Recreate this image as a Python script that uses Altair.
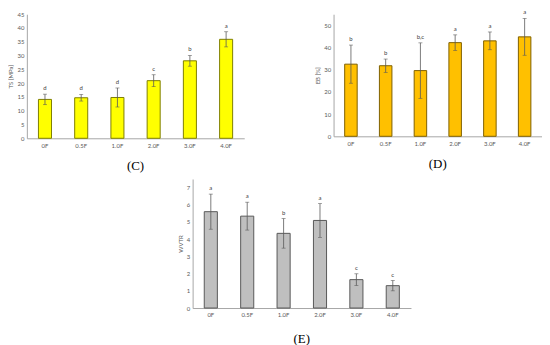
import altair as alt
import pandas as pd

cats = ["0F", "0.5F", "1.0F", "2.0F", "3.0F", "4.0F"]

ts_mean = [14.1, 14.7, 14.8, 20.9, 28.1, 35.9]
ts_err = [1.9, 1.2, 3.45, 2.15, 1.95, 2.75]
ts_letters = ["d", "d", "d", "c", "b", "a"]

eb_mean = [32.5, 31.8, 29.6, 42.2, 43.0, 44.8]
eb_err = [8.6, 3.0, 12.5, 3.5, 4.0, 8.3]
eb_letters = ["b", "b", "b,c", "a", "a", "a"]

wvtr_mean = [5.6, 5.34, 4.34, 5.09, 1.65, 1.3]
wvtr_err = [1.02, 0.81, 0.86, 0.98, 0.34, 0.3]
wvtr_letters = ["a", "a", "b", "a", "c", "c"]

FONT = "Lato"


def panel(mean, err, letters, fill, stroke, ytitle, domain, ticks, w, h, title, toff):
    df = pd.DataFrame({
        "cat": cats,
        "mean": mean,
        "lo": [m - e for m, e in zip(mean, err)],
        "hi": [m + e for m, e in zip(mean, err)],
        "lab": letters,
    })
    base = alt.Chart(df)
    x = alt.X("cat:N", sort=cats, title=None,
              scale=alt.Scale(paddingInner=0.64, paddingOuter=0.32),
              axis=alt.Axis(labelAngle=0, ticks=False, labelPadding=4))

    def y(field):
        return alt.Y(field, title=ytitle,
                     scale=alt.Scale(domain=domain, nice=False, zero=True),
                     axis=alt.Axis(values=ticks, ticks=False, grid=False,
                                   labelPadding=3, titlePadding=3))

    bars = base.mark_bar(fill=fill, stroke=stroke, strokeWidth=1).encode(x=x, y=y("mean:Q"))
    rule = base.mark_rule(color="#595959", strokeWidth=0.8).encode(x=x, y=y("lo:Q"), y2="hi:Q")
    cap_lo = base.mark_tick(color="#595959", size=4, thickness=0.8, orient="horizontal").encode(x=x, y=y("lo:Q"))
    cap_hi = base.mark_tick(color="#595959", size=4, thickness=0.8, orient="horizontal").encode(x=x, y=y("hi:Q"))
    text = base.mark_text(dy=-6, fontSize=6, baseline="middle", font=FONT, color="#404040").encode(
        x=x, y=y("hi:Q"), text="lab:N")
    return alt.layer(bars, rule, cap_lo, cap_hi, text).properties(
        width=w, height=h,
        title=alt.TitleParams(title, orient="bottom", font="Liberation Serif", fontSize=13,
                              fontWeight="normal", color="#000000", offset=toff),
    )


c_chart = panel(ts_mean, ts_err, ts_letters, "#FFFF00", "#7F7F00", "TS [MPa]",
                [0, 45], [0, 5, 10, 15, 20, 25, 30, 35, 40, 45], 219, 125, "(C)", 12)
d_chart = panel(eb_mean, eb_err, eb_letters, "#FFC000", "#7F6000", "EB [%]",
                [0, 55], [0, 10, 20, 30, 40, 50], 210, 123, "(D)", 12)
e_chart = panel(wvtr_mean, wvtr_err, wvtr_letters, "#BFBFBF", "#595959", "WVTR",
                [0, 7.5], [0, 1, 2, 3, 4, 5, 6, 7], 220, 130, "(E)", 15)

spacer = alt.Chart(pd.DataFrame({"v": [0]})).mark_point(opacity=0, size=0).encode(
    x=alt.value(0), y=alt.value(5)).properties(width=167, height=10)

row1 = alt.hconcat(c_chart, d_chart, spacing=90, bounds="flush")
row2 = alt.hconcat(spacer, e_chart, spacing=0, bounds="flush")

chart = alt.vconcat(row1, row2, spacing=6).properties(
    padding=0, background="#ffffff"
).configure_view(stroke=None).configure_axis(
    labelFont=FONT, labelFontSize=6, labelColor="#595959",
    titleFont=FONT, titleFontSize=6, titleFontWeight="normal", titleColor="#595959",
    domainColor="#a6a6a6", domainWidth=1,
)

chart.save("out.html", embed_options={"renderer": "svg", "actions": False})
